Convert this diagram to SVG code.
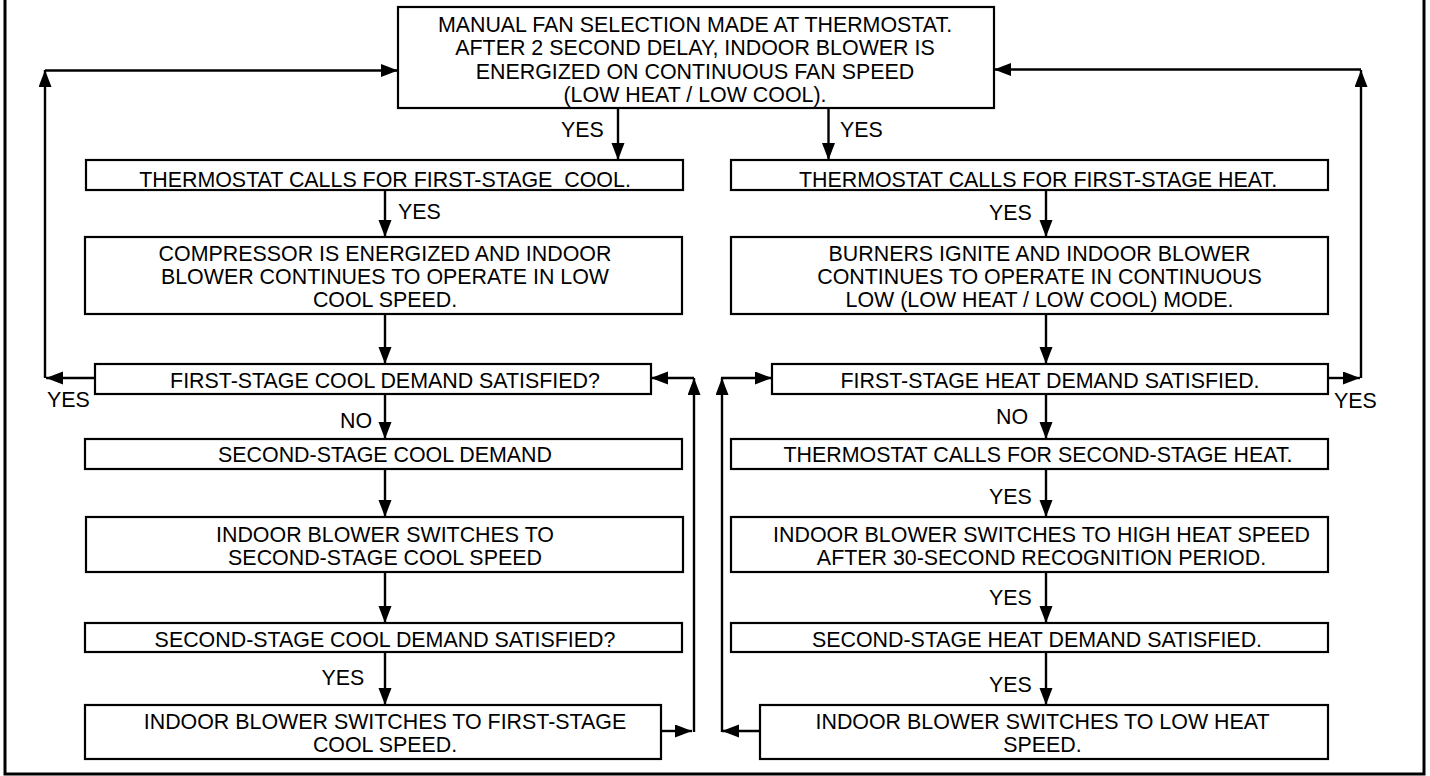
<svg xmlns="http://www.w3.org/2000/svg" width="1430" height="776" viewBox="0 0 1430 776">
<style>
.box{fill:#fff;stroke:#000;stroke-width:2.2}
.t{font-family:"Liberation Sans",Arial,sans-serif;font-size:21.4px;fill:#000}
.c{text-anchor:middle}
.ln{fill:none;stroke:#000;stroke-width:2.4}
.arr{fill:none;stroke:#000;stroke-width:2.4;marker-end:url(#ah)}
</style>
<defs>
<marker id="ah" markerUnits="userSpaceOnUse" markerWidth="18" markerHeight="14" refX="17" refY="6.5" orient="auto">
<path d="M0,0 L17,6.5 L0,13 Z" fill="#000"/>
</marker>
</defs>
<rect x="0" y="0" width="1430" height="776" fill="#fff"/>
<rect id="border" x="5" y="-10" width="1419" height="784" fill="none" stroke="#000" stroke-width="3"/>

<g id="n-top">
<rect class="box" x="398" y="7" width="596" height="101"/>
<text class="t c" x="695" y="31.5">MANUAL FAN SELECTION MADE AT THERMOSTAT.</text>
<text class="t c" x="695" y="55">AFTER 2 SECOND DELAY, INDOOR BLOWER IS</text>
<text class="t c" x="695" y="78.5">ENERGIZED ON CONTINUOUS FAN SPEED</text>
<text class="t c" x="695" y="102"> (LOW HEAT / LOW COOL).</text>
</g>

<g id="n-l1">
<rect class="box" x="86" y="160" width="597" height="30"/>
<text class="t c" x="385" y="186.5" xml:space="preserve">THERMOSTAT CALLS FOR FIRST-STAGE  COOL.</text>
</g>
<g id="n-l2">
<rect class="box" x="85" y="237" width="597" height="77"/>
<text class="t c" x="385" y="260.5">COMPRESSOR IS ENERGIZED AND INDOOR</text>
<text class="t c" x="385" y="283.5">BLOWER CONTINUES TO OPERATE IN LOW</text>
<text class="t c" x="385" y="307">COOL SPEED.</text>
</g>
<g id="n-l3">
<rect class="box" x="95" y="364" width="556" height="30"/>
<text class="t c" x="385" y="388">FIRST-STAGE COOL DEMAND SATISFIED?</text>
</g>
<g id="n-l4">
<rect class="box" x="85" y="439" width="597" height="30"/>
<text class="t c" x="385" y="462">SECOND-STAGE COOL DEMAND</text>
</g>
<g id="n-l5">
<rect class="box" x="86" y="517" width="597" height="55"/>
<text class="t c" x="385" y="541.5">INDOOR BLOWER SWITCHES TO</text>
<text class="t c" x="385" y="565">SECOND-STAGE COOL SPEED</text>
</g>
<g id="n-l6">
<rect class="box" x="85" y="623" width="597" height="29"/>
<text class="t c" x="385" y="647">SECOND-STAGE COOL DEMAND SATISFIED?</text>
</g>
<g id="n-l7">
<rect class="box" x="85" y="705" width="576" height="54"/>
<text class="t c" x="385" y="729">INDOOR BLOWER SWITCHES TO FIRST-STAGE</text>
<text class="t c" x="385" y="752">COOL SPEED.</text>
</g>

<g id="n-r1">
<rect class="box" x="731" y="160" width="597" height="30"/>
<text class="t c" x="1038" y="186.5">THERMOSTAT CALLS FOR FIRST-STAGE HEAT.</text>
</g>
<g id="n-r2">
<rect class="box" x="731" y="237" width="597" height="77"/>
<text class="t c" x="1039.5" y="260.5">BURNERS IGNITE AND INDOOR BLOWER</text>
<text class="t c" x="1039.5" y="283.5">CONTINUES TO OPERATE IN CONTINUOUS</text>
<text class="t c" x="1039.5" y="307">LOW (LOW HEAT / LOW COOL) MODE.</text>
</g>
<g id="n-r3">
<rect class="box" x="772" y="364" width="556" height="30"/>
<text class="t c" x="1050" y="388">FIRST-STAGE HEAT DEMAND SATISFIED.</text>
</g>
<g id="n-r4">
<rect class="box" x="731" y="439" width="597" height="30"/>
<text class="t c" x="1038" y="462">THERMOSTAT CALLS FOR SECOND-STAGE HEAT.</text>
</g>
<g id="n-r5">
<rect class="box" x="731" y="517" width="597" height="55"/>
<text class="t c" x="1041.5" y="541.5">INDOOR BLOWER SWITCHES TO HIGH HEAT SPEED</text>
<text class="t c" x="1041.5" y="565">AFTER 30-SECOND RECOGNITION PERIOD.</text>
</g>
<g id="n-r6">
<rect class="box" x="731" y="623" width="597" height="29"/>
<text class="t c" x="1037" y="647">SECOND-STAGE HEAT DEMAND SATISFIED.</text>
</g>
<g id="n-r7">
<rect class="box" x="760" y="705" width="568" height="54"/>
<text class="t c" x="1042.5" y="729">INDOOR BLOWER SWITCHES TO LOW HEAT</text>
<text class="t c" x="1042.5" y="752">SPEED.</text>
</g>

<g id="connectors">
<path class="arr" d="M618,109 V160"/>
<path class="arr" d="M828.5,109 V160"/>
<path class="arr" d="M385,190 V237"/>
<path class="arr" d="M385,314 V364"/>
<path class="arr" d="M95,378 H46"/>
<path class="arr" d="M45,378 V70"/>
<path class="arr" d="M45,70.5 H398"/>
<path class="arr" d="M385,394 V439"/>
<path class="arr" d="M385,469 V517"/>
<path class="arr" d="M385,572 V623"/>
<path class="arr" d="M385,652 V705"/>
<path class="arr" d="M661,731 H692"/>
<path class="arr" d="M694,732 V378"/>
<path class="arr" d="M694,378 H651"/>

<path class="arr" d="M1046,190 V237"/>
<path class="arr" d="M1046,314 V364"/>
<path class="arr" d="M1328,378 H1360"/>
<path class="arr" d="M1361,378 V70"/>
<path class="arr" d="M1361,69.5 H994"/>
<path class="arr" d="M1046,394 V439"/>
<path class="arr" d="M1046,469 V517"/>
<path class="arr" d="M1046,572 V623"/>
<path class="arr" d="M1046,652 V705"/>
<path class="arr" d="M760,731 H722"/>
<path class="arr" d="M722,732 V378"/>
<path class="arr" d="M721,378 H772"/>

<text class="t" x="561" y="137">YES</text>
<text class="t" x="840" y="137">YES</text>
<text class="t" x="398" y="219">YES</text>
<text class="t" x="47" y="406.5">YES</text>
<text class="t" x="340" y="428">NO</text>
<text class="t" x="321.5" y="684.5">YES</text>
<text class="t" x="989" y="220">YES</text>
<text class="t" x="996" y="424">NO</text>
<text class="t" x="989" y="504">YES</text>
<text class="t" x="989" y="605">YES</text>
<text class="t" x="989" y="691.5">YES</text>
<text class="t" x="1334" y="408">YES</text>
</g>
</svg>
